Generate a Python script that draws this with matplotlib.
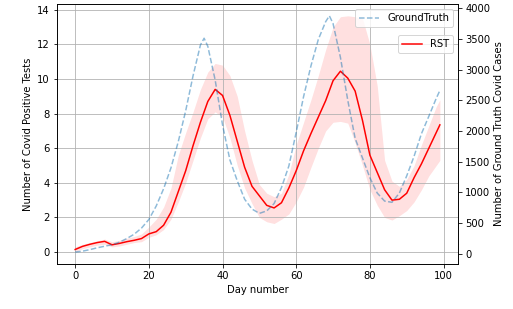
import matplotlib
matplotlib.use("Agg")
import matplotlib.pyplot as plt

# RST estimate (left axis), sampled every 2 days
days_rst = list(range(0, 100, 2)) + [99]
rst = [0.15, 0.33, 0.45, 0.55, 0.62, 0.42, 0.5, 0.6, 0.68, 0.78,
       1.05, 1.18, 1.55, 2.3, 3.5, 4.7, 6.15, 7.5, 8.7, 9.4,
       9.05, 7.9, 6.4, 4.9, 3.8, 3.25, 2.7, 2.55, 2.85, 3.7,
       4.7, 5.85, 6.85, 7.8, 8.75, 9.9, 10.45, 10.05, 9.3, 7.6,
       5.6, 4.6, 3.6, 3.0, 3.05, 3.4, 4.3, 5.1, 6.0, 6.9, 7.35]
rst_upper = [0.3, 0.45, 0.55, 0.65, 0.75, 0.6, 0.68, 0.8, 0.9, 1.05,
             1.45, 1.9, 2.6, 3.7, 5.6, 6.9, 8.1, 9.4, 10.4, 10.9,
             10.8, 10.2, 9.0, 7.0, 5.3, 3.9, 3.4, 3.2, 3.4, 4.5,
             6.2, 7.5, 8.8, 10.2, 11.7, 13.0, 13.6, 13.65, 13.6, 13.5,
             12.0, 9.6, 5.3, 4.1, 3.8, 4.2, 5.0, 6.2, 7.3, 8.4, 8.8]
rst_lower = [0.0, 0.2, 0.3, 0.4, 0.45, 0.3, 0.35, 0.45, 0.55, 0.6,
             0.85, 1.0, 1.3, 1.9, 2.9, 4.0, 5.3, 6.6, 7.7, 8.1,
             7.8, 6.6, 5.0, 3.7, 2.8, 2.0, 1.75, 1.65, 1.9, 2.2,
             2.9, 3.75, 4.9, 6.0, 7.0, 7.5, 7.55, 7.45, 6.3, 5.0,
             3.6, 2.7, 2.0, 1.85, 2.1, 2.4, 2.9, 3.6, 4.4, 5.0, 5.3]

# ground truth cases (right axis)
days_gt = [0, 2, 4, 6, 8, 10, 12, 14, 16, 18, 20, 22, 24, 26, 28, 30, 32, 34, 35,
           36, 38, 40, 42, 44, 46, 48, 50, 52, 54, 56, 58, 60, 62, 64, 66, 68, 69,
           70, 72, 74, 76, 78, 80, 82, 84, 86, 88, 90, 92, 94, 96, 98, 99]
gt = [30, 45, 70, 100, 125, 150, 190, 250, 320, 420, 560, 780, 1060, 1400, 1830,
      2330, 2900, 3400, 3510, 3380, 2830, 2100, 1530, 1190, 890, 730, 660, 700,
      820, 1080, 1430, 1980, 2560, 3060, 3490, 3780, 3875, 3750, 3200, 2500,
      1880, 1560, 1240, 990, 860, 840, 990, 1270, 1590, 1957, 2240, 2530, 2660]

fig, ax1 = plt.subplots(figsize=(513 / 72, 309 / 72), dpi=72)
fig.subplots_adjust(left=0.111, right=0.893, top=0.987, bottom=0.146)

ax1.fill_between(days_rst, rst_lower, rst_upper, color="red", alpha=0.12, linewidth=0)
ax1.plot(days_rst, rst, color="red", label="RST")
ax1.set_xlabel("Day number")
ax1.set_ylabel("Number of Covid Positive Tests")
ax1.set_yticks(range(0, 15, 2))
ax1.set_xticks(range(0, 101, 20))
ax1.grid(True)
ax1.legend(loc="upper right", bbox_to_anchor=(1, 0.9))

ax2 = ax1.twinx()
ax2.plot(days_gt, gt, "--", color="C0", alpha=0.5, label="GroundTruth")
ax2.set_ylabel("Number of Ground Truth Covid Cases")
ax2.set_yticks(range(0, 4001, 500))
ax2.legend(loc="upper right")

fig.savefig("out.png", dpi=72)
